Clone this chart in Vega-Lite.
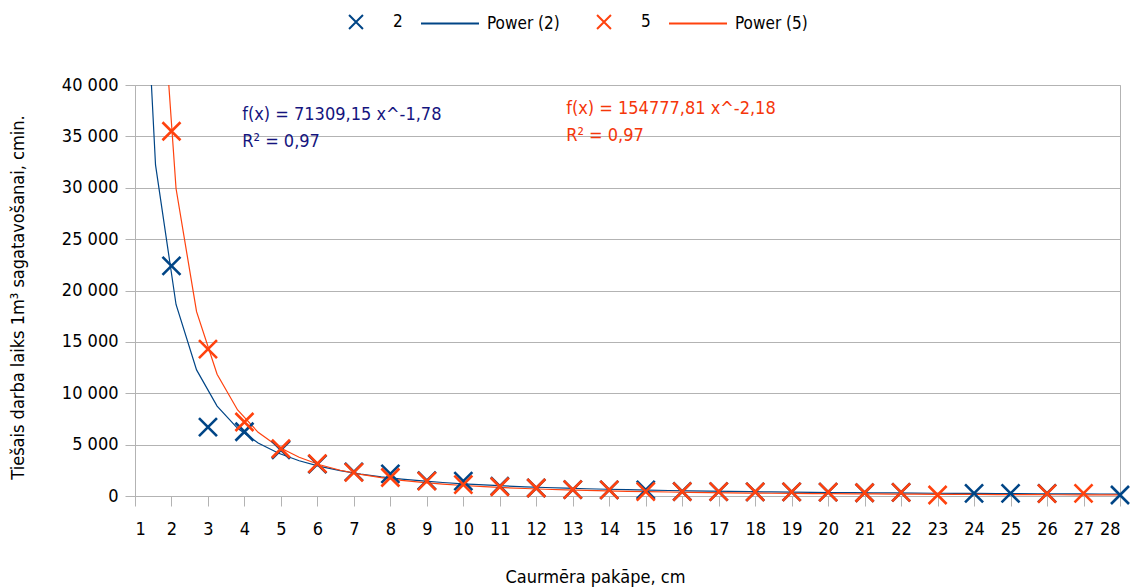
{
  "$schema": "https://vega.github.io/schema/vega-lite/v6.json",
  "width": 985,
  "height": 411,
  "autosize": "none",
  "padding": {"left": 135, "top": 85, "right": 10, "bottom": 92},
  "background": "white",
  "config": {
    "font": "DejaVu Sans Condensed",
    "view": {"stroke": "#b3b3b3", "strokeWidth": 1},
    "axis": {
      "domainColor": "#b3b3b3",
      "tickColor": "#b3b3b3",
      "gridColor": "#b3b3b3",
      "labelColor": "#000000",
      "titleColor": "#000000",
      "labelFontSize": 18,
      "titleFontSize": 18,
      "titleFontWeight": "normal",
      "tickSize": 10
    }
  },
  "datasets": {
    "measured": [
      {"diam": 2, "time": 22400, "series": "2"},
      {"diam": 3, "time": 6700, "series": "2"},
      {"diam": 4, "time": 6250, "series": "2"},
      {"diam": 5, "time": 4500, "series": "2"},
      {"diam": 6, "time": 3100, "series": "2"},
      {"diam": 7, "time": 2350, "series": "2"},
      {"diam": 8, "time": 2150, "series": "2"},
      {"diam": 9, "time": 1500, "series": "2"},
      {"diam": 10, "time": 1450, "series": "2"},
      {"diam": 11, "time": 950, "series": "2"},
      {"diam": 12, "time": 780, "series": "2"},
      {"diam": 13, "time": 620, "series": "2"},
      {"diam": 14, "time": 600, "series": "2"},
      {"diam": 15, "time": 590, "series": "2"},
      {"diam": 16, "time": 440, "series": "2"},
      {"diam": 17, "time": 420, "series": "2"},
      {"diam": 18, "time": 400, "series": "2"},
      {"diam": 19, "time": 400, "series": "2"},
      {"diam": 20, "time": 380, "series": "2"},
      {"diam": 21, "time": 320, "series": "2"},
      {"diam": 22, "time": 350, "series": "2"},
      {"diam": 24, "time": 260, "series": "2"},
      {"diam": 25, "time": 250, "series": "2"},
      {"diam": 26, "time": 260, "series": "2"},
      {"diam": 28, "time": 100, "series": "2"},
      {"diam": 2, "time": 35500, "series": "5"},
      {"diam": 3, "time": 14300, "series": "5"},
      {"diam": 4, "time": 7200, "series": "5"},
      {"diam": 5, "time": 4600, "series": "5"},
      {"diam": 6, "time": 3150, "series": "5"},
      {"diam": 7, "time": 2300, "series": "5"},
      {"diam": 8, "time": 1800, "series": "5"},
      {"diam": 9, "time": 1450, "series": "5"},
      {"diam": 10, "time": 1100, "series": "5"},
      {"diam": 11, "time": 900, "series": "5"},
      {"diam": 12, "time": 780, "series": "5"},
      {"diam": 13, "time": 620, "series": "5"},
      {"diam": 14, "time": 600, "series": "5"},
      {"diam": 15, "time": 420, "series": "5"},
      {"diam": 16, "time": 420, "series": "5"},
      {"diam": 17, "time": 420, "series": "5"},
      {"diam": 18, "time": 400, "series": "5"},
      {"diam": 19, "time": 400, "series": "5"},
      {"diam": 20, "time": 380, "series": "5"},
      {"diam": 21, "time": 320, "series": "5"},
      {"diam": 22, "time": 350, "series": "5"},
      {"diam": 23, "time": 100, "series": "5"},
      {"diam": 26, "time": 230, "series": "5"},
      {"diam": 27, "time": 250, "series": "5"}
    ],
    "trend": [
      {"diam": 1, "time": 71309, "series": "Power (2)"},
      {"diam": 1.5625, "time": 32221, "series": "Power (2)"},
      {"diam": 2.125, "time": 18640, "series": "Power (2)"},
      {"diam": 2.6875, "time": 12272, "series": "Power (2)"},
      {"diam": 3.25, "time": 8750, "series": "Power (2)"},
      {"diam": 3.8125, "time": 6586, "series": "Power (2)"},
      {"diam": 4.375, "time": 5155, "series": "Power (2)"},
      {"diam": 4.9375, "time": 4156, "series": "Power (2)"},
      {"diam": 5.5, "time": 3430, "series": "Power (2)"},
      {"diam": 6.0625, "time": 2884, "series": "Power (2)"},
      {"diam": 6.625, "time": 2463, "series": "Power (2)"},
      {"diam": 7.1875, "time": 2130, "series": "Power (2)"},
      {"diam": 7.75, "time": 1863, "series": "Power (2)"},
      {"diam": 8.3125, "time": 1645, "series": "Power (2)"},
      {"diam": 8.875, "time": 1464, "series": "Power (2)"},
      {"diam": 9.4375, "time": 1312, "series": "Power (2)"},
      {"diam": 10, "time": 1183, "series": "Power (2)"},
      {"diam": 10.5625, "time": 1074, "series": "Power (2)"},
      {"diam": 11.125, "time": 979, "series": "Power (2)"},
      {"diam": 11.6875, "time": 897, "series": "Power (2)"},
      {"diam": 12.25, "time": 825, "series": "Power (2)"},
      {"diam": 12.8125, "time": 761, "series": "Power (2)"},
      {"diam": 13.375, "time": 705, "series": "Power (2)"},
      {"diam": 13.9375, "time": 655, "series": "Power (2)"},
      {"diam": 14.5, "time": 611, "series": "Power (2)"},
      {"diam": 15.0625, "time": 571, "series": "Power (2)"},
      {"diam": 15.625, "time": 535, "series": "Power (2)"},
      {"diam": 16.1875, "time": 502, "series": "Power (2)"},
      {"diam": 16.75, "time": 473, "series": "Power (2)"},
      {"diam": 17.3125, "time": 446, "series": "Power (2)"},
      {"diam": 17.875, "time": 421, "series": "Power (2)"},
      {"diam": 18.4375, "time": 398, "series": "Power (2)"},
      {"diam": 19, "time": 378, "series": "Power (2)"},
      {"diam": 19.5625, "time": 358, "series": "Power (2)"},
      {"diam": 20.125, "time": 341, "series": "Power (2)"},
      {"diam": 20.6875, "time": 325, "series": "Power (2)"},
      {"diam": 21.25, "time": 309, "series": "Power (2)"},
      {"diam": 21.8125, "time": 295, "series": "Power (2)"},
      {"diam": 22.375, "time": 282, "series": "Power (2)"},
      {"diam": 22.9375, "time": 270, "series": "Power (2)"},
      {"diam": 23.5, "time": 259, "series": "Power (2)"},
      {"diam": 24.0625, "time": 248, "series": "Power (2)"},
      {"diam": 24.625, "time": 238, "series": "Power (2)"},
      {"diam": 25.1875, "time": 229, "series": "Power (2)"},
      {"diam": 25.75, "time": 220, "series": "Power (2)"},
      {"diam": 26.3125, "time": 212, "series": "Power (2)"},
      {"diam": 26.875, "time": 204, "series": "Power (2)"},
      {"diam": 27.4375, "time": 196, "series": "Power (2)"},
      {"diam": 28, "time": 189, "series": "Power (2)"},
      {"diam": 1, "time": 154778, "series": "Power (5)"},
      {"diam": 1.5625, "time": 58503, "series": "Power (5)"},
      {"diam": 2.125, "time": 29926, "series": "Power (5)"},
      {"diam": 2.6875, "time": 17936, "series": "Power (5)"},
      {"diam": 3.25, "time": 11852, "series": "Power (5)"},
      {"diam": 3.8125, "time": 8369, "series": "Power (5)"},
      {"diam": 4.375, "time": 6200, "series": "Power (5)"},
      {"diam": 4.9375, "time": 4763, "series": "Power (5)"},
      {"diam": 5.5, "time": 3765, "series": "Power (5)"},
      {"diam": 6.0625, "time": 3045, "series": "Power (5)"},
      {"diam": 6.625, "time": 2509, "series": "Power (5)"},
      {"diam": 7.1875, "time": 2101, "series": "Power (5)"},
      {"diam": 7.75, "time": 1783, "series": "Power (5)"},
      {"diam": 8.3125, "time": 1530, "series": "Power (5)"},
      {"diam": 8.875, "time": 1327, "series": "Power (5)"},
      {"diam": 9.4375, "time": 1160, "series": "Power (5)"},
      {"diam": 10, "time": 1023, "series": "Power (5)"},
      {"diam": 10.5625, "time": 908, "series": "Power (5)"},
      {"diam": 11.125, "time": 811, "series": "Power (5)"},
      {"diam": 11.6875, "time": 728, "series": "Power (5)"},
      {"diam": 12.25, "time": 657, "series": "Power (5)"},
      {"diam": 12.8125, "time": 596, "series": "Power (5)"},
      {"diam": 13.375, "time": 543, "series": "Power (5)"},
      {"diam": 13.9375, "time": 496, "series": "Power (5)"},
      {"diam": 14.5, "time": 455, "series": "Power (5)"},
      {"diam": 15.0625, "time": 419, "series": "Power (5)"},
      {"diam": 15.625, "time": 387, "series": "Power (5)"},
      {"diam": 16.1875, "time": 358, "series": "Power (5)"},
      {"diam": 16.75, "time": 332, "series": "Power (5)"},
      {"diam": 17.3125, "time": 309, "series": "Power (5)"},
      {"diam": 17.875, "time": 288, "series": "Power (5)"},
      {"diam": 18.4375, "time": 269, "series": "Power (5)"},
      {"diam": 19, "time": 252, "series": "Power (5)"},
      {"diam": 19.5625, "time": 237, "series": "Power (5)"},
      {"diam": 20.125, "time": 223, "series": "Power (5)"},
      {"diam": 20.6875, "time": 210, "series": "Power (5)"},
      {"diam": 21.25, "time": 198, "series": "Power (5)"},
      {"diam": 21.8125, "time": 187, "series": "Power (5)"},
      {"diam": 22.375, "time": 177, "series": "Power (5)"},
      {"diam": 22.9375, "time": 167, "series": "Power (5)"},
      {"diam": 23.5, "time": 159, "series": "Power (5)"},
      {"diam": 24.0625, "time": 151, "series": "Power (5)"},
      {"diam": 24.625, "time": 143, "series": "Power (5)"},
      {"diam": 25.1875, "time": 137, "series": "Power (5)"},
      {"diam": 25.75, "time": 130, "series": "Power (5)"},
      {"diam": 26.3125, "time": 124, "series": "Power (5)"},
      {"diam": 26.875, "time": 119, "series": "Power (5)"},
      {"diam": 27.4375, "time": 113, "series": "Power (5)"},
      {"diam": 28, "time": 108, "series": "Power (5)"}
    ],
    "fit2": [
      {"diam": 3.94, "time": 38000, "label": "f(x) = 71309,15 x^-1,78"},
      {"diam": 3.94, "time": 35370, "label": "R² = 0,97"}
    ],
    "fit5": [
      {"diam": 12.82, "time": 38560, "label": "f(x) = 154777,81 x^-2,18"},
      {"diam": 12.82, "time": 35930, "label": "R² = 0,97"}
    ]
  },
  "encoding": {
    "x": {
      "field": "diam",
      "type": "quantitative",
      "scale": {"domain": [1, 28], "nice": false, "zero": false},
      "axis": {
        "title": "Caurmēra pakāpe, cm",
        "values": [1, 2, 3, 4, 5, 6, 7, 8, 9, 10, 11, 12, 13, 14, 15, 16, 17, 18, 19, 20, 21, 22, 23, 24, 25, 26, 27, 28],
        "grid": false,
        "labelPadding": 14,
        "titleX": 460,
        "titleY": 81,
        "titleBaseline": "middle"
      }
    },
    "y": {
      "field": "time",
      "type": "quantitative",
      "scale": {"domain": [0, 40000], "nice": false},
      "axis": {
        "title": "Tiešais darba laiks 1m³ sagatavošanai, cmin.",
        "values": [0, 5000, 10000, 15000, 20000, 25000, 30000, 35000, 40000],
        "labelExpr": "replace(format(datum.value, ','), ',', ' ')",
        "grid": true,
        "labelPadding": 7,
        "titleX": -117,
        "titleY": 212,
        "titleBaseline": "middle"
      }
    }
  },
  "layer": [
    {
      "data": {"name": "trend"},
      "mark": {"type": "line", "clip": true, "strokeWidth": 1.2, "interpolate": "linear"},
      "encoding": {
        "color": {
          "field": "series",
          "type": "nominal",
          "scale": {
            "domain": ["2", "Power (2)", "5", "Power (5)"],
            "range": ["#004586", "#004586", "#ff420e", "#ff420e"]
          },
          "legend": {
            "orient": "none",
            "legendX": 191,
            "legendY": -93,
            "direction": "horizontal",
            "title": null,
            "padding": 0,
            "symbolSize": 3364,
            "symbolStrokeWidth": 2,
            "labelOffset": 7,
            "columnPadding": 14,
            "labelFontSize": 17,
            "labelColor": "#000000",
            "encode": {
              "symbols": {
                "update": {
                  "shape": {"signal": "datum.value == '2' || datum.value == '5' ? 'M-0.24,-0.24L0.24,0.24M-0.24,0.24L0.24,-0.24' : 'M-1,0L1,0'"},
                  "stroke": {"scale": "color", "field": "value"},
                  "fill": {"value": "transparent"}
                }
              }
            }
          }
        }
      }
    },
    {
      "data": {"name": "measured"},
      "mark": {
        "type": "point",
        "shape": "M-1,-1L1,1M-1,1L1,-1",
        "size": 324,
        "filled": false,
        "strokeWidth": 2.6,
        "opacity": 1
      },
      "encoding": {
        "color": {"field": "series", "type": "nominal"}
      }
    },
    {
      "data": {"name": "fit2"},
      "mark": {
        "type": "text",
        "align": "left",
        "baseline": "top",
        "fontSize": 18,
        "color": "#14147e"
      },
      "encoding": {
        "text": {"field": "label", "type": "nominal"}
      }
    },
    {
      "data": {"name": "fit5"},
      "mark": {
        "type": "text",
        "align": "left",
        "baseline": "top",
        "fontSize": 18,
        "color": "#f5360a"
      },
      "encoding": {
        "text": {"field": "label", "type": "nominal"}
      }
    }
  ]
}
